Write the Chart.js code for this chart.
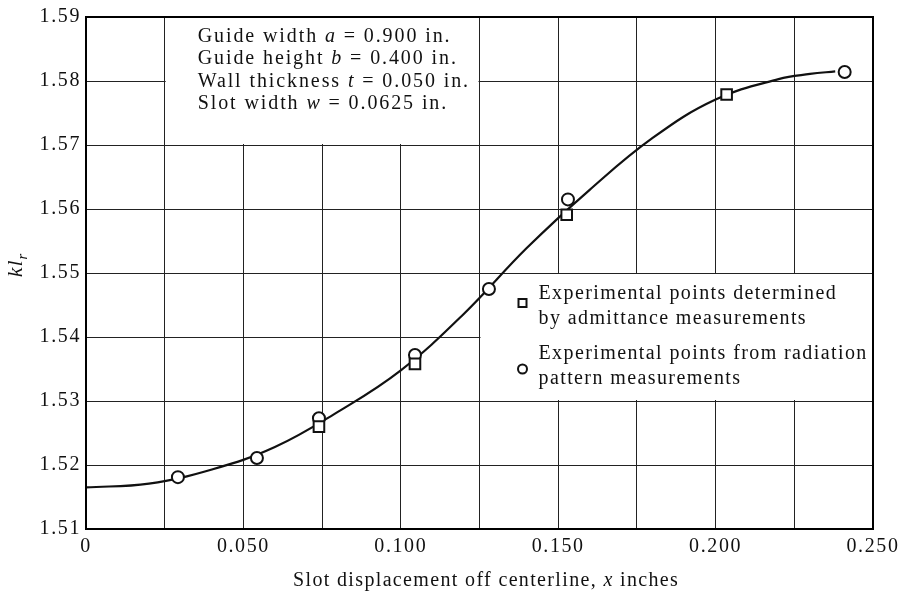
<!DOCTYPE html>
<html>
<head>
<meta charset="utf-8">
<script src="https://cdn.jsdelivr.net/npm/chart.js@4"></script>
<style>
html,body{margin:0;padding:0;background:#fff;}
#wrap{width:907px;height:595px;}
</style>
</head>
<body>
<div id="wrap"><canvas id="c" width="907" height="595"></canvas></div>
<script>
// ---- data ----
const curveX = [0, 0.020, 0.040, 0.060, 0.080, 0.100, 0.120, 0.140, 0.160, 0.180, 0.200, 0.220, 0.230, 0.238];
const curveY = [1.5165, 1.5171, 1.5193, 1.5228, 1.5283, 1.5348, 1.5436, 1.5539, 1.5630, 1.5711, 1.5771, 1.5803, 1.5811, 1.5815];
const admitX = [0.074, 0.1045, 0.1527, 0.2035];
const admitY = [1.5260, 1.5358, 1.5591, 1.5779];
const radX = [0.0292, 0.0543, 0.074, 0.1045, 0.128, 0.1531, 0.241];
const radY = [1.5181, 1.5211, 1.5273, 1.5372, 1.5475, 1.5615, 1.5814];
const xTickStep = 0.025;
const yTickStep = 0.01;
const infoLines = [
  [["Guide width ", false], ["a", true], [" = 0.900 in.", false]],
  [["Guide height ", false], ["b", true], [" = 0.400 in.", false]],
  [["Wall thickness ", false], ["t", true], [" = 0.050 in.", false]],
  [["Slot width ", false], ["w", true], [" = 0.0625 in.", false]]
];
const legendItems = [
  { marker: "rect", lines: ["Experimental points determined", "by admittance measurements"] },
  { marker: "circle", lines: ["Experimental points from radiation", "pattern measurements"] }
];
const xTitle = [["Slot displacement off centerline, ", false], ["x", true], [" inches", false]];

const pts = (xs, ys) => xs.map((x, i) => ({ x: x, y: ys[i] }));
const SERIF = '"Liberation Serif", "Times New Roman", serif';
const INK = '#111';

function drawRich(ctx, segs, x, y, size) {
  let cx = x;
  for (const [t, it] of segs) {
    ctx.font = (it ? 'italic ' : '') + size + 'px ' + SERIF;
    ctx.fillText(t, cx, y);
    cx += ctx.measureText(t).width;
  }
  return cx - x;
}

const spacing = {
  id: 'spacing',
  beforeUpdate(chart) { chart.ctx.letterSpacing = '1.6px'; },
  beforeDraw(chart) { chart.ctx.letterSpacing = '1.6px'; }
};

const decor = {
  id: 'decor',
  beforeDatasetsDraw(chart) {
    const { ctx, scales: { x, y } } = chart;
    ctx.save();
    ctx.fillStyle = '#fff';
    // info box: between gridlines 0.025..0.125 and 1.57..1.59
    const x1 = x.getPixelForValue(0.025), x2 = x.getPixelForValue(0.125);
    const y1 = y.getPixelForValue(1.59), y2 = y.getPixelForValue(1.57);
    ctx.fillRect(x1 + 1, y1 + 1, x2 - x1 - 2, y2 - y1 - 2);
    // legend box: 0.125..0.25, 1.53..1.55
    const lx1 = x.getPixelForValue(0.125), lx2 = x.getPixelForValue(0.25);
    const ly1 = y.getPixelForValue(1.55), ly2 = y.getPixelForValue(1.53);
    ctx.fillRect(lx1 + 1, ly1 + 1, lx2 - lx1 - 2, ly2 - ly1 - 2);

    // info text
    ctx.fillStyle = INK;
    ctx.textBaseline = 'alphabetic';
    ctx.textAlign = 'left';
    ctx.letterSpacing = '1.9px';
    infoLines.forEach((segs, i) => {
      drawRich(ctx, segs, x1 + 33, y1 + 25 + i * 22.3, 20);
    });

    // legend
    ctx.letterSpacing = '1.4px';
    legendItems.forEach((it, i) => {
      const base = ly1 + 26 + i * 60;
      const mx = lx1 + 43;
      const cy = base + 4 + (i === 0 ? 0 : 6);
      ctx.strokeStyle = INK;
      ctx.lineWidth = 2;
      ctx.fillStyle = '#fff';
      if (it.marker === 'rect') {
        ctx.fillRect(mx - 4, cy - 4, 8, 8);
        ctx.strokeRect(mx - 4, cy - 4, 8, 8);
      } else {
        ctx.beginPath(); ctx.arc(mx, cy, 4.5, 0, Math.PI * 2); ctx.fill(); ctx.stroke();
      }
      ctx.fillStyle = INK;
      ctx.font = '20px ' + SERIF;
      ctx.fillText(it.lines[0], mx + 16, base);
      ctx.fillText(it.lines[1], mx + 16, base + 24.5);
    });
    ctx.restore();
  },
  afterDraw(chart) {
    const { ctx, chartArea: a } = chart;
    ctx.save();
    ctx.strokeStyle = '#000';
    ctx.lineWidth = 2;
    ctx.strokeRect(a.left, a.top, a.right - a.left, a.bottom - a.top);
    // x title
    ctx.fillStyle = INK;
    ctx.textBaseline = 'alphabetic';
    ctx.letterSpacing = '1.35px';
    drawRich(ctx, xTitle, 293, 586, 20);
    // y title kl_r
    ctx.letterSpacing = '1px';
    ctx.translate(22, 265);
    ctx.rotate(-Math.PI / 2);
    ctx.font = 'italic 22px ' + SERIF;
    const w1 = ctx.measureText('kl').width;
    ctx.font = 'italic 15px ' + SERIF;
    const w2 = ctx.measureText('r').width;
    const sx = -(w1 + w2) / 2;
    ctx.font = 'italic 22px ' + SERIF;
    ctx.fillText('kl', sx, 0);
    ctx.font = 'italic 15px ' + SERIF;
    ctx.fillText('r', sx + w1, 5);
    ctx.restore();
  }
};

new Chart(document.getElementById('c'), {
  type: 'scatter',
  data: {
    datasets: [
      { label: 'admittance', data: pts(admitX, admitY), pointStyle: 'rect', pointRadius: 7.5,
        pointBackgroundColor: '#fff', pointBorderColor: INK, pointBorderWidth: 2, showLine: false, order: 0 },
      { label: 'radiation', data: pts(radX, radY), pointStyle: 'circle', pointRadius: 6,
        pointBackgroundColor: '#fff', pointBorderColor: INK, pointBorderWidth: 2, showLine: false, order: 1 },
      { label: 'curve', data: pts(curveX, curveY), showLine: true, borderColor: INK, borderWidth: 2.2,
        pointRadius: 0, tension: 0.4, fill: false, order: 5 }
    ]
  },
  options: {
    responsive: false,
    animation: false,
    layout: { padding: { top: 15, right: 34, left: 0, bottom: 0 } },
    plugins: { legend: { display: false }, tooltip: { enabled: false } },
    scales: {
      x: {
        type: 'linear', min: 0, max: 0.25,
        afterFit(s) { s.height = 66; },
        ticks: {
          stepSize: xTickStep, autoSkip: false, maxRotation: 0, padding: 6, color: INK,
          font: { family: SERIF, size: 20 },
          callback(v) {
            const k = Math.round(v * 1000);
            if (k % 50 !== 0) return '';
            return k === 0 ? '0' : (k / 1000).toFixed(3);
          }
        },
        grid: { color: '#222', lineWidth: 1, tickLength: 0 },
        border: { display: false }
      },
      y: {
        type: 'linear', min: 1.51, max: 1.59,
        afterFit(s) { s.width = 86; },
        ticks: {
          stepSize: yTickStep, autoSkip: false, padding: 5, color: INK,
          font: { family: SERIF, size: 20 },
          callback(v) { return v.toFixed(2); }
        },
        grid: { color: '#222', lineWidth: 1, tickLength: 0 },
        border: { display: false }
      }
    }
  },
  plugins: [spacing, decor]
});
</script>
</body>
</html>
